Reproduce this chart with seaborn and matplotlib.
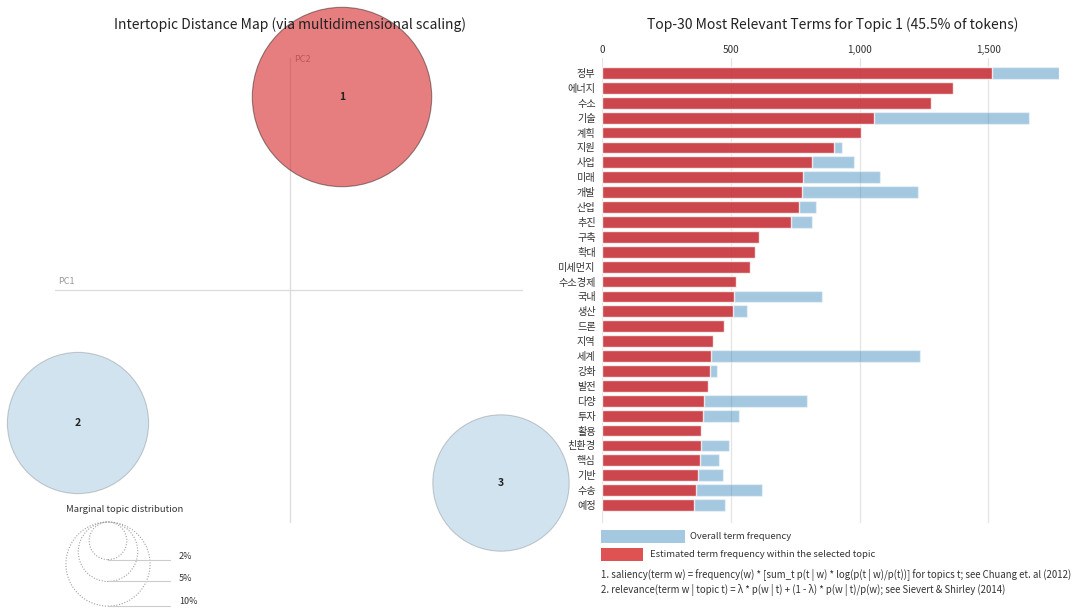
import numpy as np
import pandas as pd
import matplotlib.pyplot as plt
from matplotlib.patches import Circle, Rectangle
import seaborn as sns

sns.set_theme(style="white")
plt.rcParams['font.family'] = ['Noto Sans CJK KR', 'DejaVu Sans']

# topic map (MDS coordinates, marginal share in %)
topic_ids = ['1', '2', '3']
pc1 = [0.052, -0.212, 0.211]
pc2 = [0.193, -0.133, -0.193]
share = [45.5, 28.2, 26.3]
legend_pct = [2, 5, 10]

# top-30 terms for topic 1
terms = ['정부', '에너지', '수소', '기술', '계획', '지원', '사업', '미래', '개발', '산업',
         '추진', '구축', '확대', '미세먼지', '수소경제', '국내', '생산', '드론', '지역', '세계',
         '강화', '발전', '다양', '투자', '활용', '친환경', '핵심', '기반', '수송', '예정']
estimated = [1514, 1363, 1277, 1057, 1005, 899, 817, 779, 776, 766,
             735, 611, 593, 574, 519, 514, 509, 472, 429, 425,
             419, 411, 397, 391, 385, 384, 379, 372, 366, 357]
overall = [1774, 1363, 1277, 1656, 1005, 930, 979, 1080, 1227, 829,
           815, 611, 593, 574, 519, 853, 561, 472, 429, 1233,
           446, 411, 795, 531, 385, 494, 453, 468, 621, 478]
xticks = [0, 500, 1000, 1500]

W, H = 1088, 608
fig = plt.figure(figsize=(W / 100, H / 100), dpi=100)


def px_axes(x0, y0, x1, y1):
    return fig.add_axes([x0 / W, 1 - y1 / H, (x1 - x0) / W, (y1 - y0) / H])


# ---------------- left: intertopic distance map ----------------
S = 1000.0          # pixels per MDS unit
ox, oy = 290, 290   # pixel position of origin
axl = px_axes(0, 0, 590, 608)
axl.set_xlim((0 - ox) / S, (590 - ox) / S)
axl.set_ylim((oy - 608) / S, (oy - 0) / S)
axl.axis('off')

axl.plot([-0.235, 0.232], [0, 0], color='#dddddd', lw=1, zorder=1)
axl.plot([0, 0], [-0.232, 0.232], color='#dddddd', lw=1, zorder=1)
axl.text(-0.232, 0.004, 'PC1', fontsize=6.5, color='#999999', va='bottom', ha='left')
axl.text(0.004, 0.226, 'PC2', fontsize=6.5, color='#999999', va='bottom', ha='left', zorder=1)

df_t = pd.DataFrame({'pc1': pc1, 'pc2': pc2, 'share': share, 'topic': topic_ids})
df_t['r_px'] = 133 * np.sqrt(df_t['share'] / 100)
df_t['s'] = (2 * df_t['r_px'] * 0.72) ** 2

sel = df_t.iloc[[0]]
rest = df_t.iloc[1:]
sns.scatterplot(data=rest, x='pc1', y='pc2', s=rest['s'].values, color='#1f77b4', alpha=0.2,
                edgecolor='none', ax=axl, legend=False, zorder=2, clip_on=False)
sns.scatterplot(data=sel, x='pc1', y='pc2', s=sel['s'].values, color='#d62728', alpha=0.6,
                edgecolor='none', ax=axl, legend=False, zorder=2, clip_on=False)
# outlines
for _, row in df_t.iterrows():
    ec = (0, 0, 0, 0.4) if row['topic'] == '1' else (0, 0, 0, 0.18)
    axl.add_patch(Circle((row['pc1'], row['pc2']), row['r_px'] / S, fill=False,
                         ec=ec, lw=0.8, zorder=3, clip_on=False))
    axl.text(row['pc1'], row['pc2'], row['topic'], fontsize=7.5, fontweight='bold',
             ha='center', va='center', color='#222222', zorder=4)

# marginal topic distribution legend
cx = (108 - ox) / S
top = (oy - 522) / S
axl.text((125 - ox) / S, (oy - 510) / S, 'Marginal topic distribution', fontsize=6.8,
         ha='center', va='center', color='#333333')
for p in legend_pct:
    r = 133 * np.sqrt(p / 100) / S
    axl.add_patch(Circle((cx, top - r), r, fill=False, ec='#a0a0a0', lw=0.8, ls=(0, (1, 1.5)),
                         clip_on=False))
    yb = top - 2 * r
    axl.plot([cx, (170 - ox) / S], [yb, yb], color='#cccccc', lw=0.8)
    axl.text((179 - ox) / S, max(yb + 0.003, (oy - 601) / S), f'{p}%', fontsize=6.5,
             ha='left', va='center', color='#333333')

fig.text(290 / W, 1 - 25 / H, 'Intertopic Distance Map (via multidimensional scaling)',
         fontsize=10, ha='center', va='center', color='#222222', zorder=10)

# ---------------- right: term bar chart ----------------
step = 14.9
axr = px_axes(602, 58, 1059, 523)
df_b = pd.DataFrame({'term': terms, 'overall': overall, 'estimated': estimated})
sns.barplot(data=df_b, x='overall', y='term', color='#1f77b4', alpha=0.4, saturation=1,
            width=0.79, ax=axr, zorder=2)
sns.barplot(data=df_b, x='estimated', y='term', color='#d62728', alpha=0.8, saturation=1,
            width=0.79, ax=axr, zorder=3)
axr.set_xlim(0, max(overall))
axr.set_ylim(29 + (523 - 505) / step, -(73 - 58) / step)
axr.set_xlabel('')
axr.set_ylabel('')
axr.xaxis.tick_top()
axr.set_xticks(xticks)
axr.set_xticklabels([f'{v:,}' for v in xticks])
axr.tick_params(axis='x', length=0, pad=2, labelsize=7.2, labelcolor='#333333')
axr.tick_params(axis='y', length=0, pad=4.5, labelsize=7.3, labelcolor='#333333')
for v in xticks:
    axr.axvline(v, color='#e4e4e4', lw=0.9, zorder=1)
for sp in axr.spines.values():
    sp.set_visible(False)
axr.set_facecolor('none')

fig.text(833 / W, 1 - 25 / H, 'Top-30 Most Relevant Terms for Topic 1 (45.5% of tokens)',
         fontsize=10, ha='center', va='center', color='#222222')

# legend + footnotes
axg = px_axes(590, 524, 1088, 608)
axg.set_xlim(590, 1088)
axg.set_ylim(608, 524)
axg.axis('off')
axg.add_patch(Rectangle((601, 530), 84, 13, color='#1f77b4', alpha=0.4, lw=0))
axg.add_patch(Rectangle((601, 548), 42, 13, color='#d62728', alpha=0.8, lw=0))
axg.text(690, 536.5, 'Overall term frequency', fontsize=6.8, va='center', color='#333333')
axg.text(650, 554.5, 'Estimated term frequency within the selected topic', fontsize=6.8,
         va='center', color='#333333')
axg.text(601, 575, '1. saliency(term w) = frequency(w) * [sum_t p(t | w) * log(p(t | w)/p(t))] '
         'for topics t; see Chuang et. al (2012)', fontsize=6.95, va='center', color='#333333')
axg.text(601, 590, '2. relevance(term w | topic t) = λ * p(w | t) + (1 - λ) * p(w | t)/p(w); '
         'see Sievert & Shirley (2014)', fontsize=6.95, va='center', color='#333333')

fig.savefig('out.png', dpi=100)
